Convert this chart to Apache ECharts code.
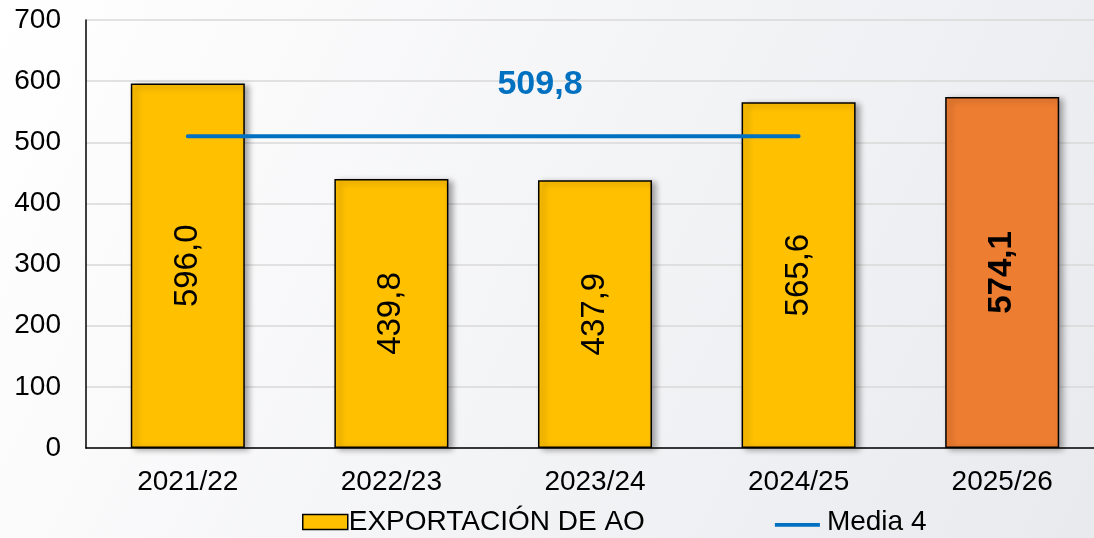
<!DOCTYPE html>
<html><head><meta charset="utf-8">
<script src="https://cdn.jsdelivr.net/npm/echarts@6/dist/echarts.min.js"></script>
<style>html,body{margin:0;padding:0;}#c{width:1094px;height:538px;}</style>
</head><body><div id="c"></div>
<script>
const categories = ['2021/22','2022/23','2023/24','2024/25','2025/26'];
const exportValues = [596.0, 439.8, 437.9, 565.6, 574.1];
const mediaValues = [509.8, 509.8, 509.8, 509.8, null];
const yTicks = {min: 0, max: 700, interval: 100};

const fmt = v => v.toFixed(1).replace('.', ',');
const chart = echarts.init(document.getElementById('c'));
const F = 'Liberation Sans, Arial, sans-serif';
chart.setOption({
  backgroundColor: {type:'linear', x:0, y:0, x2:1, y2:1, colorStops:[{offset:0,color:'#ffffff'},{offset:1,color:'#e9eaee'}]},
  animation: false,
  textStyle: {fontFamily: F},
  grid: {left: 86, width: 1018, top: 20, bottom: 90, outerBoundsMode: 'none', containLabel: false},
  legend: {
    bottom: -3, left: 297, itemGap: 130, itemWidth: 45, itemHeight: 15,
    textStyle: {fontSize: 28, color: '#000', fontFamily: F, padding: [0,0,0,-4]},
    data: [
      {name: 'EXPORTACIÓN DE AO', icon: 'rect', itemStyle:{borderColor:'#000', borderWidth:1.5}},
      {name: 'Media 4', icon: 'path://M0,0 L0,0 M0,6 L48,6 L48,10 L0,10 Z', itemStyle: {color: '#0070C0'},
        textStyle: {padding: [0,0,0,2]}}
    ]
  },
  xAxis: {
    type: 'category', data: categories,
    axisLine: {lineStyle: {color: '#000', width: 1.5}},
    axisTick: {show: false},
    axisLabel: {fontSize: 28, color: '#000', margin: 20, fontFamily: F}
  },
  yAxis: {
    type: 'value', min: yTicks.min, max: yTicks.max, interval: yTicks.interval,
    axisLine: {show: true, lineStyle: {color: '#000', width: 1.5}},
    axisTick: {show: false},
    axisLabel: {fontSize: 28, color: '#000', margin: 25, fontFamily: F},
    splitLine: {lineStyle: {color: '#d9d9d9', width: 1.5}}
  },
  series: [
    {
      name: 'EXPORTACIÓN DE AO', type: 'bar', barWidth: '56%',
      itemStyle: {color: '#FFC000', borderColor: '#000', borderWidth: 1.5,
        shadowBlur: 6, shadowOffsetX: 4, shadowOffsetY: 2, shadowColor: 'rgba(0,0,0,0.35)'},
      label: {show: true, position: 'inside', rotate: 90, fontSize: 33, color: '#000', fontFamily: F,
        formatter: p => fmt(p.value)},
      data: exportValues.map((v, i) => i === 4
        ? {value: v, itemStyle: {color: '#ED7D31'}, label: {fontWeight: 'bold'}}
        : v),
      z: 2
    },
    {
      name: 'Media 4', type: 'line', symbol: 'circle', symbolSize: 0.1, showSymbol: true, showAllSymbol: true,
      connectNulls: false,
      lineStyle: {color: '#0070C0', width: 4, cap: 'round'},
      itemStyle: {color: '#0070C0'},
      label: {show: false},
      labelLayout: p => p.dataIndex === 2 ? {dx: -55, dy: -30, hideOverlap: false} : {},
      data: mediaValues.map((v, i) => i === 2
        ? {value: v, label: {show: true, position: 'top', formatter: p => fmt(p.value),
            fontSize: 34, fontWeight: 'bold', color: '#0070C0', fontFamily: F}}
        : v),
      z: 3
    }
  ]
});
</script></body></html>
